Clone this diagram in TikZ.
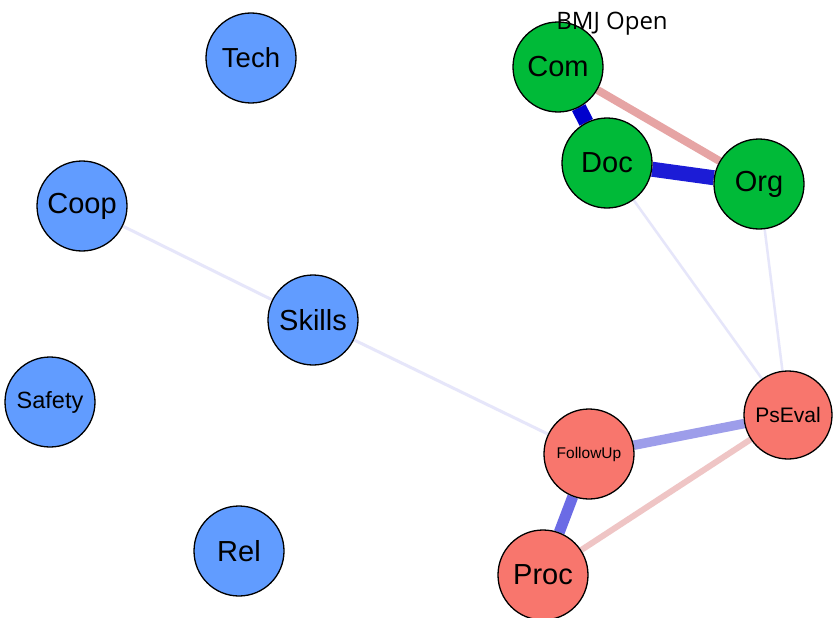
\documentclass[tikz,border=0pt]{standalone}
\usepackage{fontspec}
\setmainfont{Liberation Sans}
\newfontfamily\titlefont{Open Sans}
\usetikzlibrary{backgrounds}
\definecolor{nblue}{HTML}{619CFF}
\definecolor{ngreen}{HTML}{00BA38}
\definecolor{nred}{HTML}{F8766D}
\definecolor{eComDoc}{HTML}{0000CD}
\definecolor{eDocOrg}{HTML}{1C1CD6}
\definecolor{eComOrg}{HTML}{E6A4A4}
\definecolor{eFolPs}{HTML}{9D9DEA}
\definecolor{eFolProc}{HTML}{6B6BE5}
\definecolor{eProcPs}{HTML}{EFC5C5}
\definecolor{efaint}{HTML}{E6E6FA}
\tikzset{
  vertex/.style={circle, draw=black, line width=1.3pt, minimum size=90pt, inner sep=0pt,
    font=\fontsize{29}{30}\selectfont},
  bluev/.style={vertex, fill=nblue},
  greenv/.style={vertex, fill=ngreen},
  redv/.style={vertex, fill=nred},
  link/.style={line cap=butt},
}
\begin{document}
\begin{tikzpicture}[x=1pt,y=-1pt]
\useasboundingbox (0,0) rectangle (833,618);

% blue group
\node[bluev, font=\fontsize{27.5}{30}\selectfont] (tech) at (251,58) {Tech};
\node[bluev] (coop) at (82,206) {Coop};
\node[bluev] (skills) at (313,320) {Skills};
\node[bluev, font=\fontsize{23.5}{26}\selectfont] (safety) at (50,402) {Safety};
\node[bluev] (rel) at (239,551) {Rel};

% green group
\node[greenv] (com) at (558,67) {Com};
\node[greenv] (doc) at (607,163) {Doc};
\node[greenv] (org) at (759,184) {Org};

% red group
\node[redv, minimum size=88pt, font=\fontsize{21}{24}\selectfont] (pseval) at (788,415) {PsEval};
\node[redv, font=\fontsize{15.5}{18}\selectfont] (follow) at (589,454) {FollowUp};
\node[redv] (proc) at (543,575) {Proc};

\node[font=\titlefont\fontsize{24}{26}\selectfont, inner sep=0pt] (title) at (612,24) {BMJ Open};

\begin{scope}[on background layer]
  \fill[white] (0,0) rectangle (833,618);
  \draw[link, line width=3pt, efaint] (coop) -- (skills);
  \draw[link, line width=3pt, efaint] (skills) -- (follow);
  \draw[link, line width=2.5pt, efaint] (doc) -- (pseval);
  \draw[link, line width=2.5pt, efaint] (org) -- (pseval);
  \draw[link, line width=8pt, eComOrg] (com) -- (org);
  \draw[link, line width=15pt, eComDoc] (com) -- (doc);
  \draw[link, line width=15pt, eDocOrg] (doc) -- (org);
  \draw[link, line width=6pt, eProcPs] (proc) -- (pseval);
  \draw[link, line width=9.5pt, eFolPs] (follow) -- (pseval);
  \draw[link, line width=11pt, eFolProc] (follow) -- (proc);
\end{scope}
\end{tikzpicture}
\end{document}
